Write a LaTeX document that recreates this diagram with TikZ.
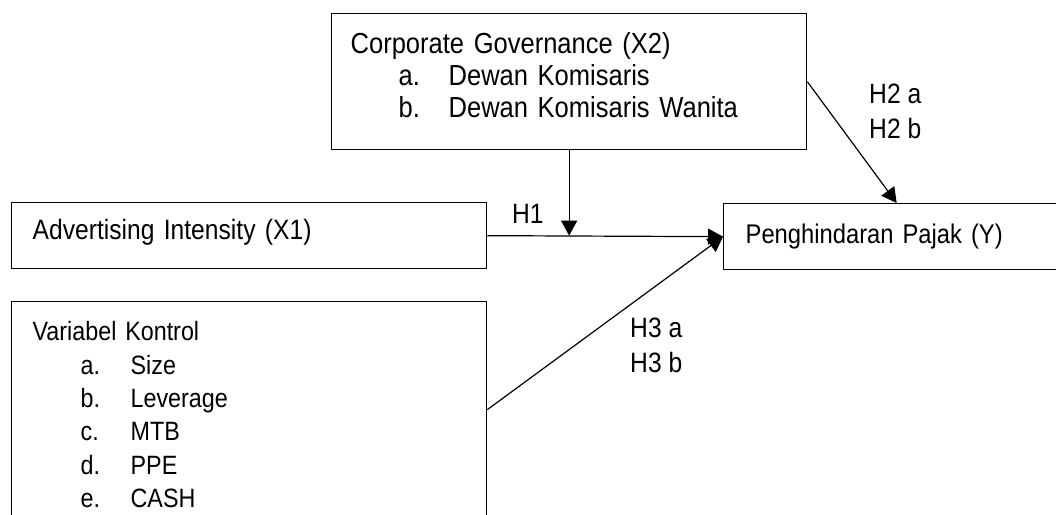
\documentclass[tikz,border=0pt]{standalone}
\usepackage{fontspec}
\setmainfont[FakeStretch=0.88]{Liberation Sans}
\usetikzlibrary{arrows.meta,positioning,calc}

\newcommand{\sub}[2]{\hspace*{48pt}\makebox[50pt][l]{#1}#2}
\newcommand{\topstrut}[1]{\rule{0pt}{#1pt}}
\newcommand{\botstrut}[1]{\rule[-#1pt]{0pt}{#1pt}}

\begin{document}
\begin{tikzpicture}[x=1pt, y=-1pt]

\tikzset{every node/.style = {inner ysep=0pt, anchor=north west, align=left}}
\tikzset{every edge/.append style = {line width=1.2pt, >={Triangle[length=15pt,width=16pt]}}}
\tikzstyle{var} = [rectangle, draw, line width=1.3pt]
\tikzstyle{hyp} = [inner xsep=0pt, font=\fontsize{28}{35.5}\selectfont]

\useasboundingbox (0,0) rectangle (1056,514);

\node[var, text width=437pt, inner xsep=19pt, font=\fontsize{29}{32}\selectfont] (cg) at (331,13)
  {\topstrut{40}Corporate Governance (X2)\\
   \sub{a.}{Dewan Komisaris}\\
   \sub{b.}{Dewan Komisaris Wanita}\botstrut{32}};
\node[var, text width=433pt, inner xsep=21pt, font=\fontsize{28}{32}\selectfont] (ai) at (11,202)
  {\topstrut{37}Advertising Intensity (X1)\botstrut{29}};
\node[var, text width=302pt, inner xsep=22pt, font=\fontsize{27}{32}\selectfont] (pp) at (723,203)
  {\topstrut{40}Penghindaran Pajak (Y)\botstrut{26}};
\node[var, text width=433pt, inner xsep=21pt, font=\fontsize{26.5}{33.4}\selectfont] (vk) at (11,301)
  {\topstrut{39}Variabel Kontrol\\
   \sub{a.}{Size}\\
   \sub{b.}{Leverage}\\
   \sub{c.}{MTB}\\
   \sub{d.}{PPE}\\
   \sub{e.}{CASH}\botstrut{10}};

\node[hyp] (h1) at (512,198) {\topstrut{25}H1};
\node[hyp] (h2) at (869,78)  {\topstrut{25}H2 a\\H2 b};
\node[hyp] (h3) at (630,312) {\topstrut{25}H3 a\\H3 b};

\coordinate (join) at (cg.south |- ai.east);

\draw (cg.south) edge[->] (join);
\draw (ai.east)  edge[->] (pp.west);
\draw (cg.east)  edge[->] (pp.north);
\draw (vk.east)  edge[->] (pp.west);

\end{tikzpicture}
\end{document}
